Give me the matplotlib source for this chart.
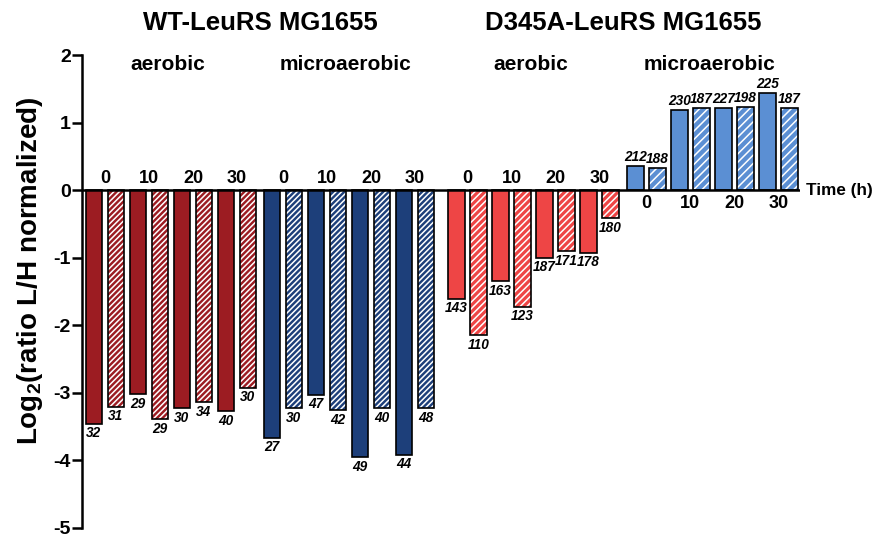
import matplotlib
matplotlib.use("Agg")
import matplotlib.pyplot as plt

plt.rcParams['font.family'] = ['Liberation Sans', 'DejaVu Sans']
plt.rcParams['mathtext.fontset'] = 'custom'
plt.rcParams['mathtext.rm'] = 'Liberation Sans:bold'
plt.rcParams['mathtext.bf'] = 'Liberation Sans:bold'
plt.rcParams['hatch.linewidth'] = 1.1

# ---------------- data ----------------
times = ["0", "10", "20", "30"]
wt_aerobic = [-3.46, -3.21, -3.02, -3.39, -3.23, -3.14, -3.28, -2.93]
wt_micro = [-3.67, -3.23, -3.03, -3.26, -3.96, -3.23, -3.92, -3.23]
d_aerobic = [-1.61, -2.15, -1.35, -1.73, -1.00, -0.91, -0.93, -0.42]
d_micro = [0.36, 0.33, 1.18, 1.21, 1.21, 1.23, 1.43, 1.22]

wt_aerobic_n = [32, 31, 29, 29, 30, 34, 40, 30]
wt_micro_n = [27, 30, 47, 42, 49, 40, 44, 48]
d_aerobic_n = [143, 110, 163, 123, 187, 171, 178, 180]
d_micro_n = [212, 188, 230, 187, 227, 198, 225, 187]

strains = ["WT-LeuRS MG1655", "D345A-LeuRS MG1655"]
conditions = ["aerobic", "microaerobic", "aerobic", "microaerobic"]

groups = [wt_aerobic, wt_micro, d_aerobic, d_micro]
counts = [wt_aerobic_n, wt_micro_n, d_aerobic_n, d_micro_n]
colors = ["#9C1C22", "#1D3F7A", "#EE4545", "#5B8FD3"]
hatches = ["//////", "//////", "/////", "////"]
group_start = [0.0, 8.09, 16.48, 24.61]

# ---------------- figure ----------------
W, H = 875, 537
fig = plt.figure(figsize=(W / 100, H / 100), dpi=100)
ax_left, ax_right = 82, 800
ax_top, ax_bot = 55, 527.5
ax = fig.add_axes([ax_left / W, 1 - ax_bot / H, (ax_right - ax_left) / W, (ax_bot - ax_top) / H])

width = 0.77
for g, (vals, ns) in enumerate(zip(groups, counts)):
    xs = [group_start[g] + i for i in range(len(vals))]
    for i, (x, v, n) in enumerate(zip(xs, vals, ns)):
        if i % 2 == 1:
            ax.bar(x, v, width=width, color=colors[g], edgecolor='white',
                   hatch=hatches[g], linewidth=0, zorder=2)
        else:
            ax.bar(x, v, width=width, color=colors[g], linewidth=0, zorder=2)
        ax.bar(x, v, width=width, fill=False, edgecolor='black', linewidth=1.2, zorder=3)
        if v < 0:
            ax.text(x, v - 0.04, str(n), ha='center', va='top', fontsize=9.8,
                    fontweight='bold', fontstyle='italic')
        else:
            ax.text(x, v + 0.03, str(n), ha='center', va='bottom', fontsize=9.8,
                    fontweight='bold', fontstyle='italic')
    # time labels
    for k, t in enumerate(times):
        xc = group_start[g] + 2 * k + 0.5
        if g < 3:
            ax.text(xc, 0.05, t, ha='center', va='bottom', fontsize=13, fontweight='bold')
        else:
            ax.text(xc, -0.07, t, ha='center', va='top', fontsize=13, fontweight='bold')
    # condition labels
    gc = group_start[g] + 3.5 - 0.15
    ax.text(gc, 1.86, conditions[g], ha='center', va='center', fontsize=15,
            fontweight='bold', clip_on=False)

# strain titles
for s in range(2):
    xc = (group_start[2 * s] + group_start[2 * s + 1] + 7) / 2
    ax.text(xc, 2.47, strains[s], ha='center', va='center', fontsize=18.5,
            fontweight='bold', clip_on=False)

ax.axhline(0, color='black', linewidth=1.8, zorder=4)
ax.text(1.008, 0, "Time (h)", transform=ax.get_yaxis_transform(), ha='left', va='center',
        fontsize=12.3, fontweight='bold', clip_on=False)

px_unit = 22.0
first_center = 94
ax.set_xlim((ax_left - first_center) / px_unit, (ax_right - first_center) / px_unit)
ax.set_ylim(-5, 2)
ax.set_yticks(range(-5, 3))
ax.set_yticklabels([str(t) for t in range(-5, 3)], fontsize=14, fontweight='bold')
ax.tick_params(axis='y', length=7, width=1.8, pad=1)
ax.set_xticks([])
for sp in ['top', 'right', 'bottom']:
    ax.spines[sp].set_visible(False)
ax.spines['left'].set_linewidth(1.8)
ax.spines['left'].set_zorder(5)

fig.text(30 / W, 1 - 271 / H, r"Log$_2$(ratio L/H normalized)", rotation=90,
         ha='center', va='center', fontsize=20, fontweight='bold')

fig.savefig("out.png", dpi=100)
